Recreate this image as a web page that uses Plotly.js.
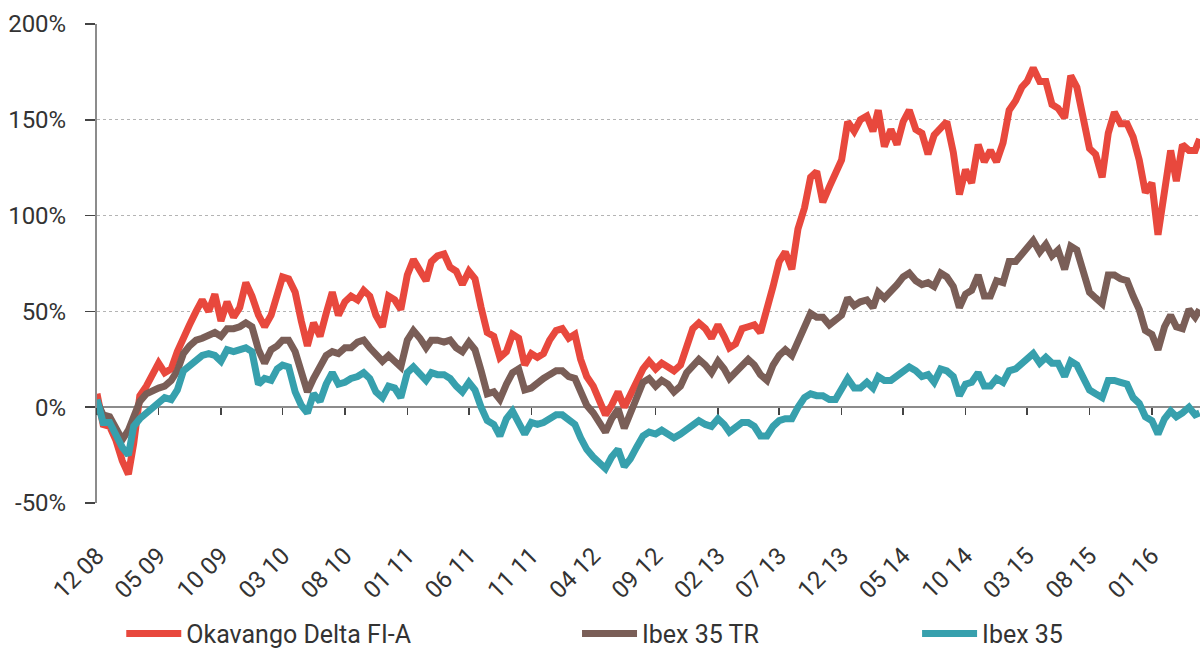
<!DOCTYPE html>
<html>
<head>
<meta charset="utf-8">
<script src="https://cdn.plot.ly/plotly-3.0.1.min.js"></script>
<style>html,body{margin:0;padding:0;background:#fff;}#chart{width:1200px;height:648px;}</style>
</head>
<body>
<div id="chart"></div>
<script>
var dates = [
"2008-12-01","2008-12-16",
"2009-01-01","2009-01-16","2009-02-01","2009-02-16","2009-03-01","2009-03-16","2009-04-01","2009-04-16","2009-05-01","2009-05-16","2009-06-01","2009-06-16","2009-07-01","2009-07-16","2009-08-01","2009-08-16","2009-09-01","2009-09-16","2009-10-01","2009-10-16","2009-11-01","2009-11-16","2009-12-01","2009-12-16",
"2010-01-01","2010-01-16","2010-02-01","2010-02-16","2010-03-01","2010-03-16","2010-04-01","2010-04-16","2010-05-01","2010-05-16","2010-06-01","2010-06-16","2010-07-01","2010-07-16","2010-08-01","2010-08-16","2010-09-01","2010-09-16","2010-10-01","2010-10-16","2010-11-01","2010-11-16","2010-12-01","2010-12-16",
"2011-01-01","2011-01-16","2011-02-01","2011-02-16","2011-03-01","2011-03-16","2011-04-01","2011-04-16","2011-05-01","2011-05-16","2011-06-01","2011-06-16","2011-07-01","2011-07-16","2011-08-01","2011-08-16","2011-09-01","2011-09-16","2011-10-01","2011-10-16","2011-11-01","2011-11-16","2011-12-01","2011-12-16",
"2012-01-01","2012-01-16","2012-02-01","2012-02-16","2012-03-01","2012-03-16","2012-04-01","2012-04-16","2012-05-01","2012-05-16","2012-06-01","2012-06-16","2012-07-01","2012-07-16","2012-08-01","2012-08-16","2012-09-01","2012-09-16","2012-10-01","2012-10-16","2012-11-01","2012-11-16","2012-12-01","2012-12-16",
"2013-01-01","2013-01-16","2013-02-01","2013-02-16","2013-03-01","2013-03-16","2013-04-01","2013-04-16","2013-05-01","2013-05-16","2013-06-01","2013-06-16","2013-07-01","2013-07-16","2013-08-01","2013-08-16","2013-09-01","2013-09-16","2013-10-01","2013-10-16","2013-11-01","2013-11-16","2013-12-01","2013-12-16",
"2014-01-01","2014-01-16","2014-02-01","2014-02-16","2014-03-01","2014-03-16","2014-04-01","2014-04-16","2014-05-01","2014-05-16","2014-06-01","2014-06-16","2014-07-01","2014-07-16","2014-08-01","2014-08-16","2014-09-01","2014-09-16","2014-10-01","2014-10-16","2014-11-01","2014-11-16","2014-12-01","2014-12-16",
"2015-01-01","2015-01-16","2015-02-01","2015-02-16","2015-03-01","2015-03-16","2015-04-01","2015-04-16","2015-05-01","2015-05-16","2015-06-01","2015-06-16","2015-07-01","2015-07-16","2015-08-01","2015-08-16","2015-09-01","2015-09-16","2015-10-01","2015-10-16","2015-11-01","2015-11-16","2015-12-01","2015-12-16",
"2016-01-01","2016-01-16","2016-02-01","2016-02-16","2016-03-01","2016-03-16","2016-04-01","2016-04-16","2016-04-27"
];

var okavango = [
7,-9,
-10,-17,-28,-35,-19,6,11,18,23,18,20,29,37,43,50,56,50,59,45,55,47,52,65,58,
48,42,48,58,68,67,60,45,32,44,37,49,60,48,55,58,56,61,58,48,42,58,56,51,
69,77,72,66,76,79,80,73,71,64,71,67,52,39,37,26,29,38,36,22,28,26,28,35,
40,41,36,38,25,16,11,4,-4,1,8,0,6,13,20,24,20,23,21,19,22,33,41,44,
41,36,43,37,31,33,41,42,43,39,50,63,76,81,72,93,104,120,123,107,115,123,129,149,
144,150,152,144,155,136,145,137,149,155,145,143,132,142,146,149,133,111,124,117,137,128,134,128,
138,155,160,167,170,177,170,170,158,156,151,173,167,150,135,132,120,143,154,148,148,141,129,112,
117,90,116,134,118,137,134,134,140
];

var ibex35tr = [
3,-4,
-5,-10,-17,-12,-4,3,7,9,10,11,14,19,28,32,35,36,38,39,37,41,41,42,44,42,
30,23,30,32,35,35,29,19,8,15,22,27,29,28,31,31,34,35,31,27,24,27,24,21,
35,40,36,31,35,35,34,35,31,29,34,30,19,7,8,4,12,18,20,9,10,13,15,17,
19,19,16,15,7,1,-3,-8,-13,-6,-1,-11,-3,6,13,15,11,14,12,8,11,18,22,25,
22,18,24,20,15,18,22,25,22,17,14,22,27,30,27,34,41,49,47,47,43,45,48,57,
53,55,56,52,60,57,60,64,68,70,66,64,65,63,70,68,63,52,59,61,69,58,58,66,
65,76,76,80,83,87,81,85,79,82,72,84,82,72,60,57,54,69,69,67,66,58,51,40,
38,30,42,48,42,41,51,47,51
];

var ibex35 = [
4,-8,
-8,-14,-21,-25,-10,-6,-3,-1,2,5,4,9,19,22,24,27,28,27,24,30,29,30,31,29,
12,15,14,20,22,21,8,1,-3,7,3,12,18,12,13,15,16,18,15,8,5,11,10,5,
18,21,17,14,18,17,17,15,11,8,13,9,0,-7,-9,-15,-6,-2,-8,-14,-8,-9,-8,-6,
-4,-4,-7,-9,-16,-22,-26,-29,-32,-26,-22,-31,-27,-21,-15,-13,-14,-12,-14,-16,-14,-12,-9,-7,
-9,-10,-6,-9,-13,-11,-8,-8,-10,-15,-15,-10,-7,-6,-6,0,5,7,6,6,4,4,10,15,
10,10,13,10,16,14,14,16,19,21,19,16,17,13,20,19,16,6,12,13,18,11,11,15,
13,19,20,23,25,28,23,26,23,23,16,24,22,16,9,7,5,14,14,13,12,5,2,-5,
-7,-14,-6,-2,-5,-3,0,-4,-3
];

var seriesNames = ["Okavango Delta FI-A", "Ibex 35 TR", "Ibex 35"];
var tickDates = ["2008-12-01","2009-05-01","2009-10-01","2010-03-01","2010-08-01","2011-01-01","2011-06-01","2011-11-01","2012-04-01","2012-09-01","2013-02-01","2013-07-01","2013-12-01","2014-05-01","2014-10-01","2015-03-01","2015-08-01","2016-01-01"];
var tickLabels = ["12 08","05 09","10 09","03 10","08 10","01 11","06 11","11 11","04 12","09 12","02 13","07 13","12 13","05 14","10 14","03 15","08 15","01 16"];
var yTicks = [-50, 0, 50, 100, 150, 200];
var yTickLabels = ["-50%","0%","50%","100%","150%","200%"];

var colors = ["#e8483d", "#7a5e57", "#37a0ad"];
var FONT = "Roboto, 'Noto Sans', Arial, sans-serif";

function mk(y, i, leg) {
  return {
    x: dates, y: y, type: "scatter", mode: "lines", name: seriesNames[i],
    line: {color: colors[i], width: 7},
    legend: leg, hoverinfo: "skip"
  };
}

var traces = [
  mk(okavango, 0, "legend"),
  mk(ibex35tr, 1, "legend2"),
  mk(ibex35, 2, "legend3"),
  {x: [dates[0]], y: [null], xaxis: "x2", type: "scatter", mode: "lines", showlegend: false, hoverinfo: "skip"}
];

var legBase = {orientation: "h", yanchor: "middle", xanchor: "left", y: -0.273,
  font: {family: FONT, size: 25, color: "#333"}, bgcolor: "rgba(0,0,0,0)", itemwidth: 55};

var layout = {
  width: 1200, height: 648,
  margin: {l: 97, r: 0, t: 24, b: 145, pad: 0, autoexpand: false},
  paper_bgcolor: "#fff", plot_bgcolor: "#fff",
  font: {family: FONT, color: "#333"},
  xaxis: {
    type: "date", range: ["2008-12-01", "2016-04-28"],
    tickmode: "array", tickvals: tickDates, ticktext: tickLabels,
    tickangle: -45, ticks: "", showline: false, showgrid: false, zeroline: false,
    tickfont: {family: FONT, size: 24, color: "#333"}, ticklabelstandoff: 33,
    layer: "below traces", automargin: false
  },
  xaxis2: {
    type: "date", matches: "x", overlaying: "x", anchor: "free", position: 0.2,
    tickmode: "array", tickvals: tickDates, showticklabels: false,
    ticks: "outside", ticklen: 7, tickwidth: 1.5, tickcolor: "#444",
    showline: true, linecolor: "#8c8c8c", linewidth: 2, showgrid: false, zeroline: false,
    layer: "below traces"
  },
  yaxis: {
    range: [-50, 200], tickmode: "array", tickvals: yTicks, ticktext: yTickLabels,
    showgrid: true, gridcolor: "#b4b4b4", griddash: "dot", gridwidth: 1,
    zeroline: false, showline: true, linecolor: "#8c8c8c", linewidth: 2,
    ticks: "outside", ticklen: 10, tickwidth: 1.5, tickcolor: "#444",
    tickfont: {family: FONT, size: 24, color: "#333"}, ticklabelstandoff: 14,
    layer: "below traces", automargin: false
  },
  legend: Object.assign({}, legBase, {x: 0.022}),
  legend2: Object.assign({}, legBase, {x: 0.4352}),
  legend3: Object.assign({}, legBase, {x: 0.7435}),
  showlegend: true
};

Plotly.newPlot("chart", traces, layout, {staticPlot: true, displayModeBar: false});
</script>
</body>
</html>
